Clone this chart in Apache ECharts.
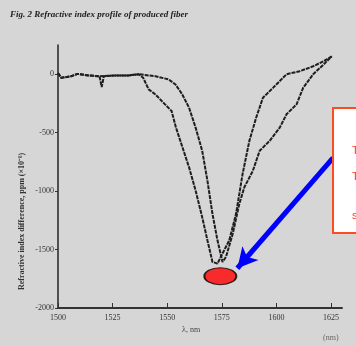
<!DOCTYPE html>
<html>
<head>
<meta charset="utf-8">
<script src="https://cdn.jsdelivr.net/npm/echarts@6/dist/echarts.min.js"></script>
<style>
html,body{margin:0;padding:0;background:#d6d6d6;}
#main{width:356px;height:346px;}
</style>
</head>
<body>
<div id="main"></div>
<script>
// wavelength (nm) and index change for the two profiles
var xLeft = [1500,1501.5,1506,1509,1514,1519,1520,1521,1526,1532,1537,1539,1541.5,1544.6,1549,1552,1554,1557,1560,1563,1566,1568.4,1570.7,1573,1575.3,1578.4,1581.5,1584.5,1587.6,1590.7,1593.8,1598.4,1604.6,1610.7,1616.8,1621.5,1625.3];
var yLeft = [10,-31,-17,3,-11,-17,-110,-17,-11,-11,0,-31,-130,-173,-258,-315,-457,-627,-797,-996,-1223,-1421,-1606,-1620,-1534,-1421,-1194,-853,-570,-372,-202,-117,0,26,68,111,153];
var xRight = [1500,1501.5,1506,1509,1514,1519,1526,1532,1537,1544.6,1550.7,1553.8,1556.9,1560,1563,1566,1568.4,1570.7,1573,1575.3,1576.9,1580,1583,1585.3,1589.2,1592.3,1596.9,1601.5,1604.6,1609.2,1612.2,1616.8,1621.5,1625.3];
var yRight = [10,-31,-17,3,-11,-17,-11,-11,0,-17,-45,-88,-173,-287,-457,-655,-911,-1194,-1421,-1606,-1563,-1364,-1109,-967,-826,-655,-570,-457,-343,-258,-117,0,82,153];
// annotation: red marker and blue arrow (data coords)
var markerPt = [1574.3, -1728];
var arrowFrom = [1625.9, -715];
var arrowTo = [1582.1, -1660];

var myChart = echarts.init(document.getElementById('main'));

function pairs(xs, ys){
    return xs.map(function(x, i){ return [x, ys[i]]; });
}

var lineStyle = {color:'#1e1e1e', width:2, type:[4,1]};

var option = {
    backgroundColor:'#d6d6d6',
    animation:false,
    grid:{left:58, right:14, top:45, bottom:38},
    xAxis:{
        type:'value', min:1500, max:1630, interval:25,
        axisLine:{onZero:false, lineStyle:{color:'#333', width:2}},
        axisTick:{inside:true, length:5, lineStyle:{color:'#333'}},
        axisLabel:{color:'#333', fontSize:8, fontFamily:'Liberation Serif', margin:6, showMaxLabel:false,
            formatter:function(v){ return String(v); }},
        splitLine:{show:false}
    },
    yAxis:{
        type:'value', min:-2000, max:250, interval:500,
        axisLine:{show:true, lineStyle:{color:'#222', width:1.5}},
        axisTick:{show:true, length:3, lineStyle:{color:'#333'}},
        axisLabel:{color:'#333', fontSize:8, fontFamily:'Liberation Serif', margin:4, showMaxLabel:false,
            formatter:function(v){ return String(v); }},
        splitLine:{show:false}
    },
    series:[
        {type:'line', data:pairs(xLeft, yLeft), symbol:'none', lineStyle:lineStyle, z:2},
        {type:'line', data:pairs(xRight, yRight), symbol:'none', lineStyle:lineStyle, z:2,
            markLine:{
                silent:true, symbol:['none','arrow'], symbolSize:[16,20],
                label:{show:false},
                lineStyle:{color:'#0000ff', width:5, type:'solid'},
                data:[[{coord:arrowFrom}, {coord:arrowTo}]]
            }
        },
        {type:'scatter', data:[markerPt], symbol:'circle', symbolSize:[32,17],
            itemStyle:{color:'#ff0000', borderColor:'#000', borderWidth:1.5}, z:5}
    ],
    graphic:[
        {type:'text', left:10, top:10, style:{text:'Fig. 2 Refractive index profile of produced fiber',
            fill:'#222', font:'italic bold 9px "Liberation Serif"'}},
        {type:'text', x:18, y:290, rotation:Math.PI/2, style:{text:'Refractive index difference, ppm (×10⁻⁶)',
            fill:'#333', font:'bold 8px "Liberation Serif"'}},
        {type:'text', left:182, top:326, style:{text:'λ, nm', fill:'#444', font:'8px "Liberation Serif"'}},
        {type:'text', left:323, top:334, style:{text:'(nm)', fill:'#666', font:'8px "Liberation Serif"'}},
        {type:'rect', shape:{x:333, y:108, width:40, height:125},
            style:{fill:'#fff', stroke:'#ff4a22', lineWidth:2}, z:10},
        {type:'text', x:352, y:144, z:11, style:{text:'The\n\nThe\n\n\nshift', fill:'#ff3a1a',
            font:'11px "Liberation Sans"', lineHeight:13}}
    ]
};
myChart.setOption(option);
</script>
</body>
</html>
